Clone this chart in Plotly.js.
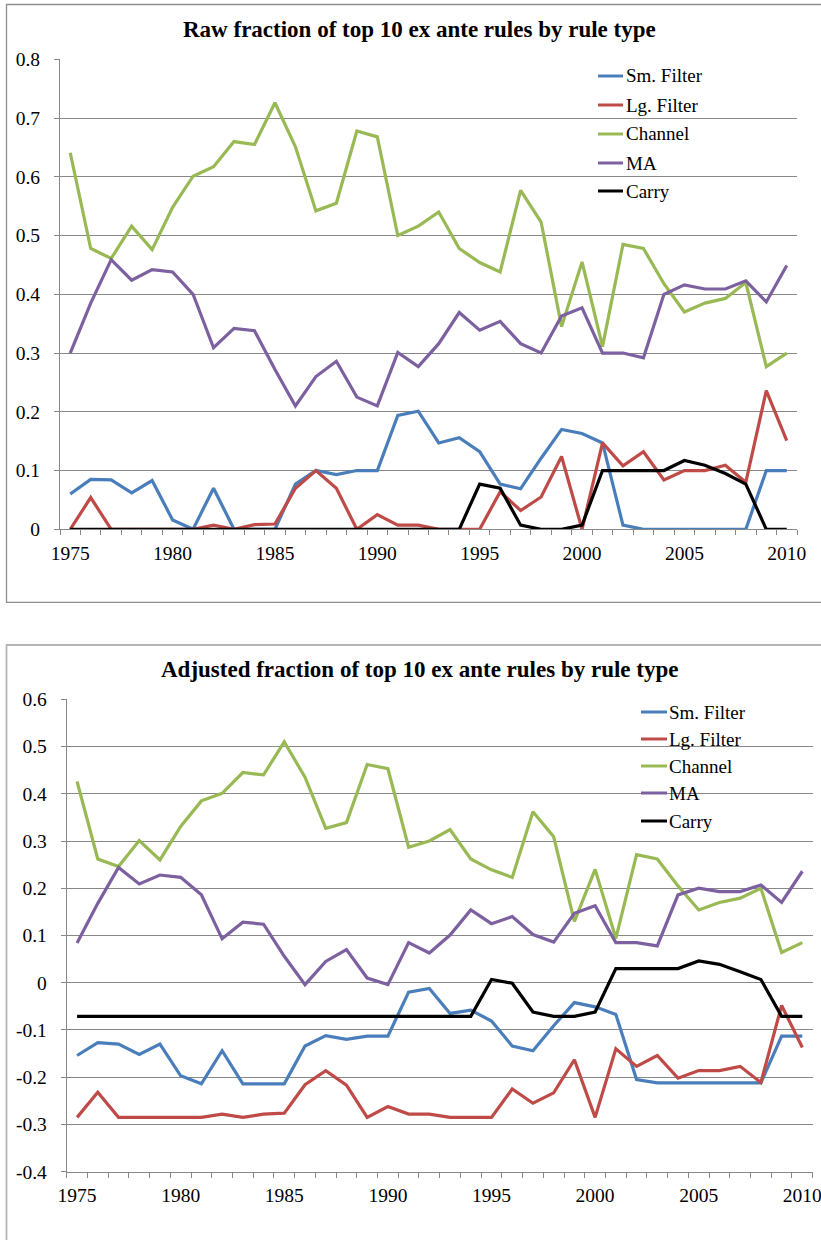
<!DOCTYPE html>
<html>
<head>
<meta charset="utf-8">
<script src="https://cdn.plot.ly/plotly-3.0.1.min.js"></script>
<style>
html,body{margin:0;padding:0;background:#fff;}
#chart{width:821px;height:1240px;}
</style>
</head>
<body>
<div id="chart"></div>
<script>
const years = ["1975","1976","1977","1978","1979","1980","1981","1982","1983","1984","1985","1986","1987","1988","1989","1990","1991","1992","1993","1994","1995","1996","1997","1998","1999","2000","2001","2002","2003","2004","2005","2006","2007","2008","2009","2010"];
const seriesNames = ["Sm. Filter","Lg. Filter","Channel","MA","Carry"];
const xLabelText = ["1975","1980","1985","1990","1995","2000","2005","2010"];
const topYTickVals = [0,0.1,0.2,0.3,0.4,0.5,0.6,0.7,0.8];
const topYTickText = ["0","0.1","0.2","0.3","0.4","0.5","0.6","0.7","0.8"];
const botYTickVals = [-0.4,-0.3,-0.2,-0.1,0,0.1,0.2,0.3,0.4,0.5,0.6];
const botYTickText = ["-0.4","-0.3","-0.2","-0.1","0","0.1","0.2","0.3","0.4","0.5","0.6"];
const titleTop = "Raw fraction of top 10 ex ante rules by rule type";
const titleBot = "Adjusted fraction of top 10 ex ante rules by rule type";

const rawSm = [0.060,0.085,0.084,0.062,0.083,0.016,0.000,0.070,0.000,0.000,
               0.000,0.077,0.100,0.093,0.100,0.100,0.194,0.201,0.147,0.156,
               0.132,0.077,0.069,0.121,0.170,0.163,0.147,0.007,0.000,0.000,
               0.000,0.000,0.000,0.000,0.100,0.100];
const rawLg = [0.000,0.054,0.000,0.000,0.000,0.000,0.000,0.007,0.000,0.008,
               0.009,0.070,0.100,0.070,0.000,0.025,0.007,0.007,0.000,0.000,
               0.000,0.064,0.032,0.055,0.124,0.000,0.147,0.108,0.132,0.084,
               0.100,0.100,0.109,0.080,0.236,0.151];
const rawCh = [0.641,0.478,0.461,0.516,0.476,0.548,0.601,0.617,0.660,0.655,
               0.726,0.651,0.542,0.555,0.678,0.668,0.500,0.516,0.540,0.478,
               0.454,0.438,0.577,0.523,0.345,0.455,0.311,0.485,0.478,0.418,
               0.370,0.385,0.393,0.420,0.277,0.300];
const rawMA = [0.300,0.385,0.459,0.424,0.442,0.438,0.400,0.309,0.342,0.338,
               0.272,0.210,0.260,0.286,0.225,0.210,0.301,0.277,0.316,0.369,
               0.339,0.354,0.316,0.300,0.363,0.377,0.300,0.300,0.292,0.400,
               0.416,0.409,0.409,0.423,0.387,0.449];
const rawCarry = [0,0,0,0,0,0,0,0,0,0,
                  0,0,0,0,0,0,0,0,0,0,
                  0.077,0.070,0.007,0.000,0.000,0.007,0.100,0.100,0.100,0.100,
                  0.117,0.109,0.095,0.077,0.000,0.000];

const adjSm = [-0.154,-0.127,-0.130,-0.152,-0.130,-0.197,-0.214,-0.144,-0.214,-0.214,
               -0.214,-0.134,-0.112,-0.120,-0.113,-0.113,-0.020,-0.012,-0.065,-0.058,
               -0.081,-0.134,-0.144,-0.091,-0.042,-0.051,-0.067,-0.205,-0.212,-0.212,
               -0.212,-0.212,-0.212,-0.212,-0.113,-0.113];
const adjLg = [-0.285,-0.232,-0.285,-0.285,-0.285,-0.285,-0.285,-0.278,-0.285,-0.278,
               -0.276,-0.216,-0.186,-0.217,-0.285,-0.262,-0.278,-0.278,-0.285,-0.285,
               -0.285,-0.225,-0.255,-0.233,-0.163,-0.285,-0.140,-0.177,-0.154,-0.202,
               -0.186,-0.186,-0.177,-0.211,-0.048,-0.137];
const adjCh = [0.426,0.262,0.246,0.301,0.260,0.331,0.385,0.401,0.445,0.440,
               0.510,0.435,0.327,0.339,0.462,0.453,0.287,0.300,0.324,0.262,
               0.239,0.223,0.362,0.309,0.130,0.240,0.094,0.271,0.262,0.205,
               0.154,0.170,0.179,0.200,0.064,0.085];
const adjMA = [0.084,0.168,0.244,0.209,0.228,0.223,0.186,0.093,0.128,0.124,
               0.056,-0.004,0.045,0.070,0.010,-0.004,0.085,0.063,0.101,0.154,
               0.125,0.140,0.102,0.086,0.147,0.163,0.085,0.085,0.078,0.186,
               0.200,0.193,0.193,0.207,0.170,0.236];
const adjCarry = [-0.071,-0.071,-0.071,-0.071,-0.071,-0.071,-0.071,-0.071,-0.071,-0.071,
                  -0.071,-0.071,-0.071,-0.071,-0.071,-0.071,-0.071,-0.071,-0.071,-0.071,
                  0.007,-0.001,-0.062,-0.071,-0.071,-0.062,0.030,0.030,0.030,0.030,
                  0.046,0.039,0.023,0.007,-0.071,-0.071];

const colors = ["#4A7EBB","#BE4B48","#98B954","#7D60A0","#000000"];

const W = 821, H = 1240;
const px = x => x / W;
const py = y => 1 - y / H;

const FONT = "Times New Roman, Liberation Serif, DejaVu Serif, serif";
const GRID = "#888888";

const topSeries = [rawSm, rawLg, rawCh, rawMA, rawCarry];
const botSeries = [adjSm, adjLg, adjCh, adjMA, adjCarry];

const traces = [];
topSeries.forEach((s, i) => traces.push({
  x: years, y: s, type: "scatter", mode: "lines", name: seriesNames[i],
  xaxis: "x", yaxis: "y", showlegend: false, hoverinfo: "skip",
  line: {color: colors[i], width: 3.2, shape: "linear"}
}));
botSeries.forEach((s, i) => traces.push({
  x: years, y: s, type: "scatter", mode: "lines", name: seriesNames[i],
  xaxis: "x2", yaxis: "y2", showlegend: false, hoverinfo: "skip",
  line: {color: colors[i], width: 3.2, shape: "linear"}
}));

// every category gets a tick mark on its boundary; only every fifth year is labelled
const xTickText = years.map(y => xLabelText.indexOf(y) >= 0 ? y : "");

function xAxis(domain, anchor) {
  return {
    type: "category", domain: domain, anchor: anchor, range: [-0.5, years.length - 0.5],
    tickmode: "array", tickvals: years, ticktext: xTickText, tickson: "boundaries",
    tickangle: 0,
    ticks: "outside", ticklen: 5, tickcolor: GRID, tickwidth: 1,
    ticklabeloverflow: "allow",
    showgrid: false, zeroline: false,
    showline: true, linecolor: GRID, linewidth: 1,
    tickfont: {family: FONT, size: 19.5, color: "#000"},
    ticklabelstandoff: 6
  };
}
function yAxis(domain, anchor, range, vals, text) {
  return {
    domain: domain, anchor: anchor, range: range,
    tickmode: "array", tickvals: vals, ticktext: text,
    ticks: "outside", ticklen: 5, tickcolor: GRID, tickwidth: 1,
    showgrid: true, gridcolor: GRID, gridwidth: 1, zeroline: false,
    showline: true, linecolor: GRID, linewidth: 1,
    tickfont: {family: FONT, size: 19.5, color: "#000"},
    ticklabelstandoff: 10
  };
}

const shapes = [
  {type: "rect", xref: "paper", yref: "paper", x0: px(6.5), x1: px(835), y0: py(4.5), y1: py(602.3),
   line: {color: "#8f8f8f", width: 1.3}, fillcolor: "rgba(0,0,0,0)", layer: "below"},
  {type: "rect", xref: "paper", yref: "paper", x0: px(6.5), x1: px(835), y0: py(645), y1: py(1260),
   line: {color: "#b5b5b5", width: 1.8}, fillcolor: "rgba(0,0,0,0)", layer: "below"}
];
const annotations = [
  {xref: "paper", yref: "paper", x: px(420), y: py(29), text: titleTop, showarrow: false,
   xanchor: "center", yanchor: "middle", font: {family: FONT, size: 23, color: "#000", weight: "bold"}},
  {xref: "paper", yref: "paper", x: px(420), y: py(669), text: titleBot, showarrow: false,
   xanchor: "center", yanchor: "middle", font: {family: FONT, size: 23, color: "#000", weight: "bold"}}
];

function addLegend(x0, x1, tx, ys) {
  seriesNames.forEach((n, i) => {
    shapes.push({type: "line", xref: "paper", yref: "paper", x0: px(x0), x1: px(x1), y0: py(ys[i]), y1: py(ys[i]),
      line: {color: colors[i], width: 3}});
    annotations.push({xref: "paper", yref: "paper", x: px(tx), y: py(ys[i]), text: n, showarrow: false,
      xanchor: "left", yanchor: "middle", xshift: -2, font: {family: FONT, size: 19, color: "#000"}});
  });
}
addLegend(598, 623, 626, [76, 105, 134, 163, 191]);
addLegend(641, 667, 669, [712, 739, 766, 793, 821]);

const layout = {
  width: W, height: H, margin: {l: 0, r: 0, t: 0, b: 0},
  paper_bgcolor: "#ffffff", plot_bgcolor: "rgba(0,0,0,0)",
  showlegend: false,
  font: {family: FONT},
  xaxis: xAxis([px(60), px(797)], "y"),
  yaxis: yAxis([py(529.3), py(59.3)], "x", [0, 0.8], topYTickVals, topYTickText),
  xaxis2: xAxis([px(66.7), px(812.7)], "y2"),
  yaxis2: yAxis([py(1171.7), py(699.3)], "x2", [-0.4, 0.6], botYTickVals, botYTickText),
  shapes: shapes, annotations: annotations
};

Plotly.newPlot("chart", traces, layout, {staticPlot: true, displayModeBar: false});
</script>
</body>
</html>
